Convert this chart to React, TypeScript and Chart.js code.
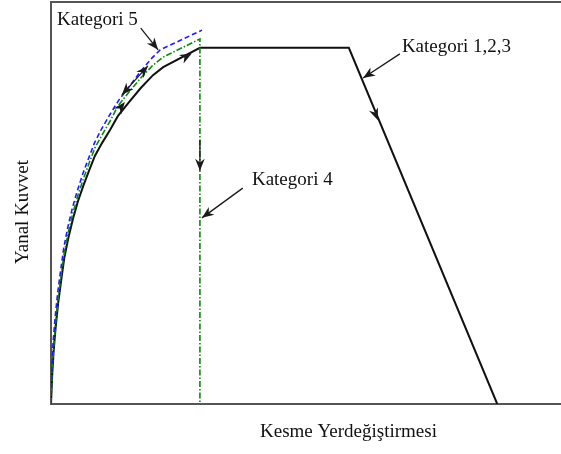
import React, { useEffect, useRef } from "react";
import { Chart, registerables } from "chart.js";

Chart.register(...registerables);

// Load–displacement paths (normalised units, 0–100 on both axes)
const kat123X = [0, 0.2, 0.5, 0.9, 1.4, 2.0, 2.6, 3.4, 4.3, 5.3, 6.4, 7.5, 8.6, 10.0, 11.6, 13.1, 15.3, 17.6, 20.0, 22.0, 29.2, 58.4, 87.5];
const kat123Y = [0, 6.5, 12.9, 18.9, 25.1, 30.8, 36.3, 41.3, 46.0, 50.5, 54.5, 58.2, 61.7, 64.9, 68.2, 71.6, 75.1, 78.6, 81.8, 83.8, 88.6, 88.6, 0];

const kat4X = [0, 0.2, 0.5, 0.9, 1.4, 2.0, 2.6, 3.4, 4.3, 5.3, 6.4, 7.5, 8.6, 10.0, 11.6, 13.1, 15.3, 17.6, 20.0, 22.0, 29.2, 29.2];
const kat4Y = [0, 7.5, 13.9, 20.1, 26.4, 32.1, 37.6, 42.8, 47.5, 52.0, 56.2, 60.0, 63.7, 66.9, 70.4, 74.1, 77.6, 81.1, 84.3, 86.3, 90.8, 0];

const kat5X = [0, 0.16, 0.4, 0.8, 1.3, 1.9, 2.5, 3.3, 4.2, 5.2, 6.3, 7.4, 8.5, 9.9, 11.5, 13.3, 15.4, 17.5, 19.6, 21.4, 29.6];
const kat5Y = [0, 8.5, 15.2, 21.4, 27.6, 33.3, 38.8, 44.0, 48.8, 53.2, 57.5, 61.2, 64.9, 68.4, 71.9, 75.6, 79.1, 82.6, 85.8, 88.1, 93.0];

const categoryLabels = ["Kategori 1,2,3", "Kategori 4", "Kategori 5"];
const xTitle = "Kesme Yerdeğiştirmesi";
const yTitle = "Yanal Kuvvet";

const toPoints = (xs: number[], ys: number[]) => xs.map((x, i) => ({ x, y: ys[i] }));

// Callouts and direction markers, given in data units
type Arrow = { from: [number, number]; to: [number, number]; both?: boolean; line?: boolean };
const arrows: Arrow[] = [
  { from: [17.6, 93.5], to: [21.0, 88.1], line: true },
  { from: [13.9, 76.9], to: [19.0, 84.1], both: true, line: true },
  { from: [12.9, 72.6], to: [14.5, 75.1] },
  { from: [25.3, 85.6], to: [27.6, 87.2] },
  { from: [29.2, 65.7], to: [29.2, 58.0], line: true },
  { from: [37.6, 53.7], to: [29.6, 46.3], line: true },
  { from: [68.4, 87.1], to: [61.2, 81.1], line: true },
  { from: [62.9, 74.4], to: [64.1, 70.6] },
];
const labels: { text: string; at: [number, number] }[] = [
  { text: categoryLabels[2], at: [1.2, 94.3] },
  { text: categoryLabels[0], at: [68.8, 87.6] },
  { text: categoryLabels[1], at: [39.4, 54.5] },
];

const FONT = '19px "Liberation Serif", "Times New Roman", serif';

function head(ctx: CanvasRenderingContext2D, fx: number, fy: number, tx: number, ty: number) {
  const ang = Math.atan2(ty - fy, tx - fx);
  const len = 12;
  const w = 4.8;
  ctx.save();
  ctx.translate(tx, ty);
  ctx.rotate(ang);
  ctx.beginPath();
  ctx.moveTo(0, 0);
  ctx.lineTo(-len, -w);
  ctx.lineTo(-len * 0.7, 0);
  ctx.lineTo(-len, w);
  ctx.closePath();
  ctx.fill();
  ctx.restore();
}

const annotate = {
  id: "annotate",
  afterDatasetsDraw(chart: any) {
    const { ctx, scales } = chart;
    const sx = (v: number) => scales.x.getPixelForValue(v);
    const sy = (v: number) => scales.y.getPixelForValue(v);
    ctx.save();
    ctx.strokeStyle = "#1a1a1a";
    ctx.fillStyle = "#1a1a1a";
    ctx.lineWidth = 1.3;
    for (const a of arrows) {
      const fx = sx(a.from[0]), fy = sy(a.from[1]);
      const tx = sx(a.to[0]), ty = sy(a.to[1]);
      if (a.line) {
        ctx.beginPath();
        ctx.moveTo(fx, fy);
        ctx.lineTo(tx, ty);
        ctx.stroke();
      }
      head(ctx, fx, fy, tx, ty);
      if (a.both) head(ctx, tx, ty, fx, fy);
    }
    ctx.font = FONT;
    ctx.fillStyle = "#111";
    ctx.textBaseline = "alphabetic";
    ctx.textAlign = "left";
    for (const l of labels) ctx.fillText(l.text, sx(l.at[0]), sy(l.at[1]));

    // axis titles
    const area = chart.chartArea;
    ctx.fillText(xTitle, area.left + 209, area.bottom + 33);
    ctx.save();
    ctx.translate(area.left - 23, area.top + 210);
    ctx.rotate(-Math.PI / 2);
    ctx.textAlign = "center";
    ctx.fillText(yTitle, 0, 0);
    ctx.restore();
    ctx.restore();
  },
};

export default function App() {
  const ref = useRef<HTMLCanvasElement | null>(null);

  useEffect(() => {
    if (!ref.current) return;
    const hidden = { display: false };
    const axis = (position: string) => ({
      type: "linear" as const,
      position,
      min: 0,
      max: 100,
      ticks: hidden,
      grid: { display: false, drawTicks: false },
      border: { display: true, color: "#555", width: 2 },
    });
    const chart = new Chart(ref.current, {
      type: "line",
      data: {
        datasets: [
          {
            label: categoryLabels[0],
            data: toPoints(kat123X, kat123Y),
            borderColor: "#111",
            borderWidth: 2,
            order: 2,
          },
          {
            label: categoryLabels[1],
            data: toPoints(kat4X, kat4Y),
            borderColor: "#0a8a0a",
            borderWidth: 1.6,
            borderDash: [6, 2, 1.5, 2],
            order: 1,
          },
          {
            label: categoryLabels[2],
            data: toPoints(kat5X, kat5Y),
            borderColor: "#1c1cff",
            borderWidth: 1.6,
            borderDash: [5, 3],
            order: 0,
          },
        ],
      },
      options: {
        animation: false,
        responsive: true,
        maintainAspectRatio: false,
        elements: { point: { radius: 0 }, line: { tension: 0, fill: false } },
        layout: { padding: { left: 51, top: 2, right: 0, bottom: 50 } },
        plugins: { legend: hidden, tooltip: { enabled: false }, title: hidden },
        scales: {
          x: axis("bottom"),
          xTop: axis("top"),
          y: axis("left"),
        },
      } as any,
      plugins: [annotate],
    });
    return () => chart.destroy();
  }, []);

  return (
    <div style={{ position: "fixed", left: 0, top: 0, width: 561, height: 454, background: "#fff" }}>
      <canvas ref={ref} />
    </div>
  );
}
